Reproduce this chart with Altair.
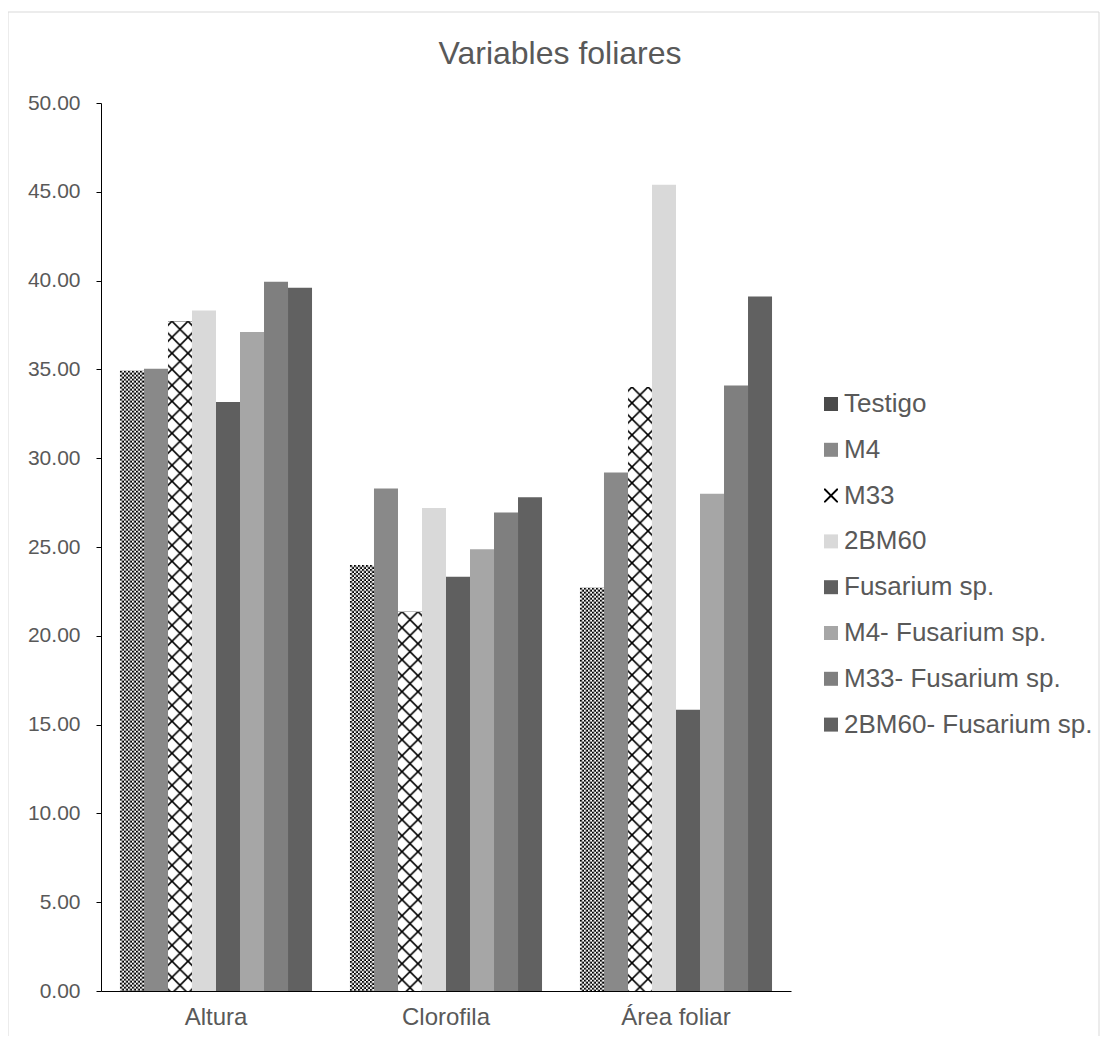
import base64
import altair as alt
import pandas as pd

categories = ["Altura", "Clorofila", "Área foliar"]
series = ["Testigo", "M4", "M33", "2BM60", "Fusarium sp.",
          "M4- Fusarium sp.", "M33- Fusarium sp.", "2BM60- Fusarium sp."]
altura = [34.93, 35.04, 37.71, 38.31, 33.17, 37.11, 39.94, 39.60]
clorofila = [23.99, 28.30, 21.36, 27.20, 23.32, 24.87, 26.94, 27.80]
area_foliar = [22.71, 29.20, 34.01, 45.40, 15.83, 28.00, 34.10, 39.10]
y_ticks = [0, 5, 10, 15, 20, 25, 30, 35, 40, 45, 50]

colors = ["#4a4a4a", "#898989", "#000000", "#d9d9d9", "#5f5f5f",
          "#a6a6a6", "#7f7f7f", "#616161"]
x_path = ("M-1,-1L-0.8,-1L0,-0.2L0.8,-1L1,-1L1,-0.8L0.2,0L1,0.8L1,1L0.8,1"
          "L0,0.2L-0.8,1L-1,1L-1,0.8L-0.2,0L-1,-0.8Z")
shapes = ["square", "square", x_path, "square", "square", "square", "square", "square"]


def svg_uri(svg):
    return "data:image/svg+xml;base64," + base64.b64encode(svg.encode("utf-8")).decode("ascii")


checker_svg = (
    "<svg xmlns='http://www.w3.org/2000/svg' width='100%' height='100%'>"
    "<defs><pattern id='c' width='4' height='4' patternUnits='userSpaceOnUse'>"
    "<rect width='4' height='4' fill='#ffffff'/>"
    "<rect width='2' height='2' fill='#000000'/>"
    "<rect x='2' y='2' width='2' height='2' fill='#000000'/>"
    "</pattern></defs><rect width='100%' height='100%' fill='url(#c)'/></svg>"
)
diamond_svg = (
    "<svg xmlns='http://www.w3.org/2000/svg' width='100%' height='100%'>"
    "<defs><pattern id='d' x='4' y='0' width='16' height='16' patternUnits='userSpaceOnUse'>"
    "<rect width='16' height='16' fill='#ffffff'/>"
    "<path d='M-2,-2L18,18M14,-2L18,2M-2,14L2,18M18,-2L-2,18M-2,2L2,-2M14,18L18,14' "
    "stroke='#000000' stroke-width='1.6' fill='none'/>"
    "</pattern></defs><rect width='100%' height='100%' fill='url(#d)'/></svg>"
)
patterns = {"Testigo": svg_uri(checker_svg), "M33": svg_uri(diamond_svg)}

rows = []
for cat, vals in zip(categories, [altura, clorofila, area_foliar]):
    for s, v in zip(series, vals):
        rows.append({"categoria": cat, "serie": s, "valor": v})
df = pd.DataFrame(rows)
df_pat = df[df["serie"].isin(list(patterns))].copy()
df_pat["patron"] = df_pat["serie"].map(patterns)

FONT = "Liberation Sans"
TXT = "#595959"

x_enc = alt.X(
    "categoria:N", sort=categories, title=None,
    scale=alt.Scale(paddingInner=0.165, paddingOuter=0.0825),
    axis=alt.Axis(labelAngle=0, labelFontSize=24, labelFont=FONT, labelColor=TXT,
                  ticks=False, labelPadding=14, domainColor="#000000", domainWidth=1),
)
xoff_enc = alt.XOffset("serie:N", sort=series,
                       scale=alt.Scale(domain=series, paddingInner=0, paddingOuter=0))
y_axis = alt.Axis(values=y_ticks, format=".2f", labelFontSize=21, labelFont=FONT,
                  labelColor=TXT, tickColor="#000000", tickSize=5, labelPadding=16,
                  domainColor="#000000", domainWidth=1, grid=False)
y_enc = alt.Y("valor:Q", title=None, scale=alt.Scale(domain=[0, 50], nice=False), axis=y_axis)

legend = alt.Legend(title=None, orient="none", legendX=717, legendY=288, padding=0,
                    symbolSize=196, labelFontSize=26, labelFont=FONT, labelColor=TXT,
                    labelLimit=500, rowPadding=19.8, labelOffset=0, symbolStrokeWidth=0,
                    symbolOpacity=1)
color_enc = alt.Color("serie:N", sort=series,
                      scale=alt.Scale(domain=series, range=colors), legend=legend)
shape_enc = alt.Shape("serie:N", sort=series,
                      scale=alt.Scale(domain=series, range=shapes), legend=legend)

frame = alt.Chart(pd.DataFrame({"k": [0]})).mark_rect(
    fillOpacity=0, stroke="#d9d9d9", strokeWidth=1
).encode(x=alt.value(-93), x2=alt.value(998), y=alt.value(-91), y2=alt.value(980))

bars = alt.Chart(df).mark_bar().encode(x=x_enc, xOffset=xoff_enc, y=y_enc, color=color_enc)

imgs = alt.Chart(df_pat).mark_image(aspect=False).encode(
    x=x_enc, xOffset=xoff_enc, y=y_enc, y2=alt.datum(0), url=alt.Url("patron:N")
)

legend_pts = alt.Chart(df).transform_filter("false").mark_point(filled=True, opacity=1).encode(
    color=color_enc, shape=shape_enc
)

chart = alt.layer(frame, bars, imgs, legend_pts).properties(
    width=690, height=888,
    autosize=alt.AutoSizeParams(type="none"),
    padding={"left": 93, "top": 95, "right": 309, "bottom": 45},
    title=alt.TitleParams("Variables foliares", fontSize=32, font=FONT, color=TXT,
                          fontWeight="normal", anchor="middle", dx=114, offset=-84,
                          baseline="alphabetic"),
).configure_view(stroke=None)

chart.save("out.html", embed_options={"renderer": "svg", "actions": False})
